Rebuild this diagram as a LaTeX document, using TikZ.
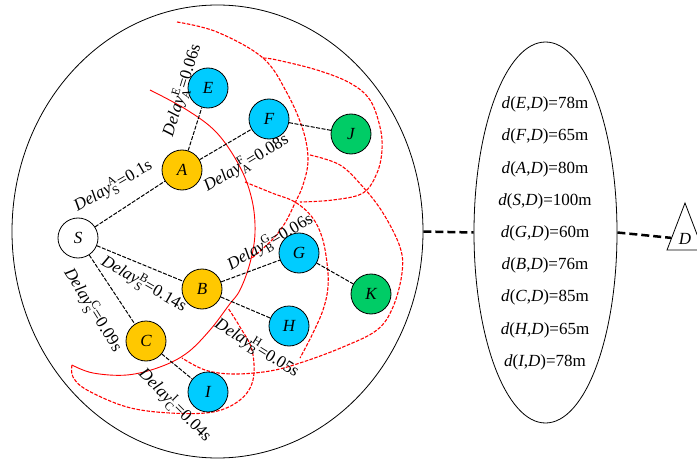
\documentclass[tikz,border=0pt]{standalone}
\usepackage{amsmath}
\usepackage{fontspec}
\setmainfont{Liberation Serif}
\usetikzlibrary{positioning, arrows.meta, shapes.geometric}

\definecolor{hopone}{RGB}{255,200,0}
\definecolor{hoptwo}{RGB}{0,204,255}
\definecolor{hopthree}{RGB}{0,204,102}
\newcommand{\dly}[3]{\textit{Delay}$_{\textrm{#1}}^{\textrm{#2}}$=#3}

\begin{document}
\begin{tikzpicture}
        [x=1pt, y=-1pt,
         vertex/.style={circle, draw, line width=0.8pt, minimum size=40pt, inner sep=0pt, font=\fontsize{17}{20}\selectfont\itshape},
         link/.style={dash pattern=on 4pt off 1.5pt, line width=1pt},
         lbl/.style={inner sep=0pt, font=\fontsize{17}{20}\selectfont},
         dist/.style={inner sep=0pt, font=\fontsize{17}{20}\selectfont},
         hop/.style={line width=2.5pt, dash pattern=on 8pt off 4pt},
         rangeline/.style={red, line width=0.9pt},
         rangedash/.style={red, line width=1.1pt, dash pattern=on 3.5pt off 1.5pt}]
        \useasboundingbox (0,0) rectangle (697,460);

        % zones
        \node[ellipse, draw, line width=0.8pt, minimum width=411pt, minimum height=453pt] (field) at (217.5,231.5) {};
        \node[ellipse, draw, line width=0.8pt, minimum width=143pt, minimum height=381pt] (table) at (545.5,232.5) {};
        \node[isosceles triangle, shape border rotate=90, isosceles triangle stretches, draw, line width=0.8pt,
              minimum width=36pt, minimum height=47pt, inner sep=0pt, anchor=apex,
              font=\fontsize{17}{20}\selectfont\itshape] (D) at (685,202) {D};

        % ranges
        \draw[rangeline] plot[smooth, tension=0.6] coordinates {(150,90) (187,110) (217,133) (240,167) (252,200) (255,233) (250,263) (240,290) (229,305) (210,330) (187,353) (160,367) (127,375) (93,373) (72,365)};
        \draw[rangedash] plot[smooth, tension=0.6] coordinates {(72,365) (73,377) (87,390) (127,407) (170,413) (213,412) (240,400) (253,380) (252,350) (240,327) (228,308)};
        \draw[rangedash] plot[smooth, tension=0.6] coordinates {(177,22) (217,32) (263,58) (287,93) (303,130) (308,160) (303,185) (295,203) (285,223) (272,240) (252,258)};
        \draw[rangedash] plot[smooth, tension=0.6] coordinates {(263,58) (277,60) (317,70) (350,83) (370,100) (380,127) (382,150) (377,173) (363,193) (333,200) (300,202)};
        \draw[rangedash] plot[smooth, tension=0.6] coordinates {(245,182) (272,193) (295,202) (312,217) (322,237) (327,263) (328,287) (323,310) (312,335) (300,358)};
        \draw[rangedash] plot[smooth, tension=0.6] coordinates {(310,155) (340,165) (363,187) (383,213) (400,247) (402,273) (393,307) (377,330) (343,347) (303,362) (270,371) (233,374) (205,370) (182,358)};

        % sensors
        \node[vertex, fill=white] (S) at (78,238) {S};
        \node[vertex, fill=hopone] (A) at (182,170) {A};
        \node[vertex, fill=hopone] (B) at (202,289) {B};
        \node[vertex, fill=hopone] (C) at (146,341) {C};
        \node[vertex, fill=hoptwo] (E) at (208,88) {E};
        \node[vertex, fill=hoptwo] (F) at (269,119) {F};
        \node[vertex, fill=hoptwo] (G) at (299,253) {G};
        \node[vertex, fill=hoptwo] (H) at (289,326) {H};
        \node[vertex, fill=hoptwo] (I) at (208,392) {I};
        \node[vertex, fill=hopthree] (J) at (351,134) {J};
        \node[vertex, fill=hopthree] (K) at (371,294) {K};

        \path [link] (S) edge (A);
        \path [link] (A) edge (E);
        \path [link] (A) edge (F);
        \path [link] (F) edge (J);
        \path [link] (S) edge (B);
        \path [link] (B) edge (G);
        \path [link] (G) edge (K);
        \path [link] (B) edge (H);
        \path [link] (S) edge (C);
        \path [link] (C) edge (I);

        % delays
        \node[lbl, rotate=30] (lSA) at (113,186) {\dly{S}{A}{0.1s}};
        \node[lbl, rotate=73] (lAE) at (182,90) {\dly{A}{E}{0.06s}};
        \node[lbl, rotate=31] (lAF) at (246,163) {\dly{A}{F}{0.08s}};
        \node[lbl, rotate=30] (lBG) at (270,242) {\dly{B}{G}{0.06s}};
        \node[lbl, rotate=-30] (lSB) at (144,284) {\dly{S}{B}{0.14s}};
        \node[lbl, rotate=-32] (lBH) at (257,348) {\dly{B}{H}{0.05s}};
        \node[lbl, rotate=-58] (lSC) at (93,310) {\dly{S}{C}{0.09s}};
        \node[lbl, rotate=-45] (lCI) at (175,405) {\dly{C}{I}{0.04s}};

        % distances to D
        \foreach \src/\len [count=\i] in {E/78, F/65, A/80, S/100, G/60, B/76, C/85, H/65, I/78}
            \node[dist] (d\i) at (545, 72.5+32.2*\i) {\textit{d}(\textit{\src},\textit{D})=\len m};

        \draw[hop] (field.east) -- (table.west);
        \draw[hop] (table.east) -- (D);
    \end{tikzpicture}
\end{document}
